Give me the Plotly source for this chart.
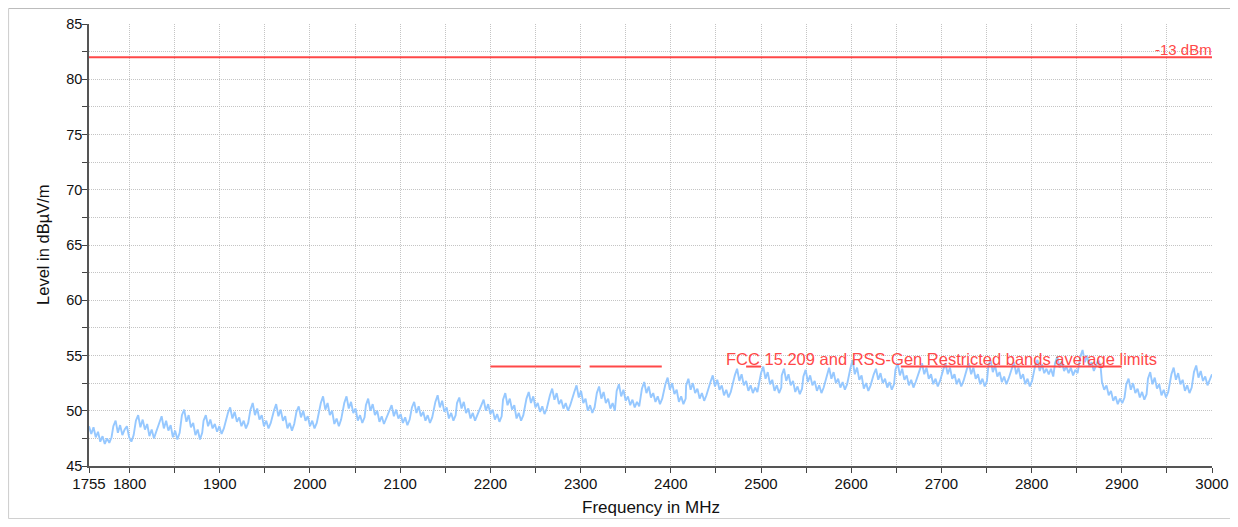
import plotly.graph_objects as go

# ---------------- data ----------------
# sweep sawtooth: each cycle starts at CYCLE_START (MHz) with samples every SAMPLE_STEP MHz
SAMPLE_STEP = 2.5
CYCLE_START = [1755, 1782, 1807, 1833, 1858, 1882, 1909, 1934, 1960, 1985, 2012, 2038,
               2062, 2088, 2113, 2139, 2163, 2190, 2214, 2240, 2266, 2293, 2318, 2340,
               2368, 2394, 2417, 2444, 2471, 2500, 2523, 2547, 2573, 2599, 2625, 2649,
               2676, 2702, 2728, 2752, 2778, 2804, 2826, 2854, 2878, 2905, 2929, 2955, 2980]
CYCLE_LEVELS = [
    [48.6, 47.9, 48.5, 47.6, 48.1, 47.2, 47.7, 47.0, 47.5, 47.1, 47.6],
    [48.6, 49.1, 48.0, 48.7, 47.8, 48.3, 48.6, 47.6, 47.2, 47.8],
    [49.1, 49.6, 48.5, 49.2, 48.3, 48.8, 47.7, 48.3, 47.5, 48.1],
    [49.0, 49.5, 48.4, 49.1, 48.2, 48.7, 47.6, 48.2, 47.4, 48.0],
    [49.6, 50.1, 49.0, 49.6, 48.5, 48.9, 47.8, 48.3, 47.4, 48.0],
    [49.1, 49.6, 48.6, 49.2, 48.4, 48.8, 48.1, 48.6, 47.9, 48.4],
    [49.8, 50.3, 49.3, 49.9, 49.0, 49.4, 48.6, 49.1, 48.4, 48.9],
    [50.1, 50.7, 49.6, 50.2, 49.2, 49.6, 48.6, 49.1, 48.4, 48.9],
    [50.0, 50.6, 49.5, 50.1, 49.1, 49.5, 48.4, 48.9, 48.2, 48.8],
    [49.9, 50.4, 49.4, 50.0, 49.1, 49.5, 48.6, 49.1, 48.4, 48.9],
    [50.7, 51.3, 50.1, 50.7, 49.6, 50.0, 48.8, 49.3, 48.6, 49.2],
    [50.7, 51.3, 50.2, 50.8, 49.8, 50.2, 49.1, 49.6, 48.9, 49.4],
    [50.5, 51.1, 50.0, 50.6, 49.6, 50.0, 49.0, 49.5, 48.8, 49.3],
    [50.0, 50.5, 49.5, 50.1, 49.3, 49.7, 48.9, 49.4, 48.7, 49.2],
    [50.3, 50.8, 49.8, 50.4, 49.5, 49.9, 49.1, 49.6, 48.9, 49.4],
    [50.8, 51.4, 50.3, 50.9, 49.9, 50.3, 49.3, 49.8, 49.1, 49.6],
    [50.7, 51.2, 50.2, 50.8, 49.8, 50.2, 49.3, 49.8, 49.1, 49.6],
    [50.5, 51.0, 50.0, 50.6, 49.7, 50.1, 49.2, 49.7, 49.0, 49.5],
    [51.0, 51.6, 50.5, 51.1, 50.1, 50.5, 49.3, 49.8, 49.1, 49.6],
    [51.1, 51.7, 50.7, 51.3, 50.3, 50.7, 49.9, 50.4, 49.7, 50.2],
    [51.4, 52.0, 51.0, 51.6, 50.6, 51.0, 50.2, 50.7, 50.0, 50.5],
    [51.7, 52.3, 51.2, 51.8, 50.7, 51.1, 50.0, 50.5, 49.8, 50.3],
    [51.6, 52.2, 51.1, 51.7, 50.7, 51.1, 50.2, 50.7, 50.0],
    [51.8, 52.4, 51.3, 51.9, 50.9, 51.3, 50.5, 51.0, 50.3, 50.8, 50.4],
    [52.0, 52.6, 51.6, 52.2, 51.2, 51.6, 50.8, 51.3, 50.6, 51.1],
    [52.4, 53.0, 51.9, 52.5, 51.5, 51.9, 50.8, 51.3, 50.6, 51.1],
    [52.3, 52.9, 51.9, 52.5, 51.6, 52.0, 51.1, 51.6, 50.9, 51.4],
    [52.6, 53.2, 52.2, 52.8, 51.9, 52.3, 51.4, 51.9, 51.2, 51.7],
    [53.2, 53.8, 52.7, 53.3, 52.3, 52.7, 51.8, 52.3, 51.6, 52.1, 51.7],
    [53.4, 54.0, 52.9, 53.5, 52.4, 52.8, 51.8, 52.3, 51.6, 52.1],
    [53.2, 53.8, 52.7, 53.3, 52.3, 52.7, 51.7, 52.2, 51.5, 52.0],
    [53.1, 53.7, 52.6, 53.2, 52.3, 52.7, 51.8, 52.3, 51.6, 52.1],
    [53.3, 53.9, 52.9, 53.5, 52.5, 52.9, 52.1, 52.6, 51.9, 52.4],
    [53.8, 54.6, 53.3, 53.9, 52.8, 53.2, 52.0, 52.5, 51.8, 52.3],
    [53.3, 53.8, 52.8, 53.4, 52.5, 52.9, 52.1, 52.6, 51.9, 52.4],
    [53.7, 54.3, 53.2, 53.8, 52.8, 53.2, 52.3, 52.8, 52.1, 52.6],
    [53.7, 54.3, 53.3, 53.9, 52.9, 53.3, 52.4, 52.9, 52.2, 52.7],
    [53.7, 54.3, 53.3, 53.9, 52.9, 53.3, 52.4, 52.9, 52.2, 52.7],
    [53.7, 54.3, 53.3, 53.9, 52.9, 53.3, 52.4, 52.9, 52.2, 52.7],
    [54.0, 54.6, 53.5, 54.1, 53.1, 53.5, 52.6, 53.1, 52.4, 52.9],
    [53.8, 54.4, 53.3, 53.9, 52.9, 53.3, 52.4, 52.9, 52.2, 52.7],
    [54.1, 54.6, 53.6, 54.2, 53.4, 53.8, 53.3, 53.8, 53.1],
    [54.3, 54.9, 53.9, 54.5, 53.6, 54.0, 53.4, 53.9, 53.2, 53.7, 53.4],
    [54.9, 55.5, 54.4, 55.0, 54.0, 54.4, 53.6, 54.1, 54.6, 54.0],
    [52.6, 51.9, 52.3, 51.4, 51.8, 50.9, 51.3, 50.6, 51.1, 50.7, 51.2],
    [52.4, 52.9, 51.9, 52.5, 51.6, 52.0, 51.2, 51.7, 51.0, 51.5],
    [52.9, 53.5, 52.4, 53.0, 52.0, 52.4, 51.4, 51.9, 51.2, 51.7],
    [53.3, 53.9, 52.8, 53.4, 52.4, 52.8, 51.8, 52.3, 51.6, 52.1],
    [53.5, 54.1, 53.0, 53.6, 52.7, 53.1, 52.3, 52.8, 53.3],
]

# limit lines
LIMIT_13DBM_FREQ = [1755, 3000]
LIMIT_13DBM_LEVEL = [82, 82]
RESTRICTED_BANDS = [(2200, 2300), (2310, 2390), (2483.5, 2500), (2655, 2900)]
RESTRICTED_LEVEL = 54

X_TICKS = [1755] + list(range(1800, 3001, 50))
X_TICK_LABELS = [str(v) if (v == 1755 or v % 100 == 0) else "" for v in X_TICKS]
Y_TICKS = [45 + 2.5 * i for i in range(17)]
Y_TICK_LABELS = [str(int(v)) if v % 5 == 0 else "" for v in Y_TICKS]

# ---------------- build ----------------
freq, level = [], []
for start, vals in zip(CYCLE_START, CYCLE_LEVELS):
    for i, v in enumerate(vals):
        f = min(start + SAMPLE_STEP * i, 3000)
        freq.append(f)
        level.append(v)

RED = "rgb(255,72,72)"
BLUE = "rgb(150,200,255)"
FONT = "Liberation Sans, Arial, sans-serif"

fig = go.Figure()
fig.add_trace(go.Scatter(x=freq, y=level, mode="lines",
                         line=dict(color=BLUE, width=1.9), showlegend=False,
                         hoverinfo="skip"))
fig.add_trace(go.Scatter(x=LIMIT_13DBM_FREQ, y=LIMIT_13DBM_LEVEL, mode="lines",
                         line=dict(color=RED, width=2), showlegend=False))
bx, by = [], []
for a, b in RESTRICTED_BANDS:
    bx += [a, b, None]
    by += [RESTRICTED_LEVEL, RESTRICTED_LEVEL, None]
fig.add_trace(go.Scatter(x=bx, y=by, mode="lines",
                         line=dict(color=RED, width=2), showlegend=False))

fig.add_annotation(x=3000, y=82, text="-13 dBm", showarrow=False,
                   xanchor="right", yanchor="bottom", yshift=-3, xshift=2,
                   font=dict(family=FONT, size=15, color=RED))
fig.add_annotation(x=2700, y=RESTRICTED_LEVEL,
                   text="FCC 15.209 and RSS-Gen Restricted bands average limits",
                   showarrow=False, xanchor="center", yanchor="bottom", yshift=-3,
                   font=dict(family=FONT, size=16.5, color=RED))

# axis titles
fig.add_annotation(xref="paper", yref="paper", x=0.5, y=-0.1199,
                   text="Frequency in MHz", showarrow=False,
                   xanchor="center", yanchor="bottom",
                   font=dict(family=FONT, size=17, color="#111"))
fig.add_annotation(xref="paper", yref="paper", x=-0.041, y=0.5,
                   text="Level in dBµV/m", showarrow=False, textangle=-90,
                   xanchor="center", yanchor="middle",
                   font=dict(family=FONT, size=16.5, color="#111"))

# outer frame (top, left, bottom)
fig.add_shape(type="line", xref="paper", yref="paper",
              x0=-0.0716, x1=1.05, y0=1.035, y1=1.035,
              line=dict(color="#bbbbbb", width=1))
fig.add_shape(type="line", xref="paper", yref="paper",
              x0=-0.0716, x1=-0.0716, y0=1.035, y1=-0.119,
              line=dict(color="#cccccc", width=1))
fig.add_shape(type="line", xref="paper", yref="paper",
              x0=-0.0716, x1=1.05, y0=-0.119, y1=-0.119,
              line=dict(color="#cccccc", width=1))

fig.update_xaxes(range=[1755, 3000], tickmode="array", tickvals=X_TICKS,
                 ticktext=X_TICK_LABELS, ticks="outside", ticklen=5,
                 tickcolor="#444", tickwidth=1.2, automargin=False,
                 ticklabelstandoff=-2,
                 showline=True, linecolor="#555", linewidth=1.5,
                 showgrid=True, gridcolor="#c4c4c4", griddash="1px,1px", gridwidth=1,
                 zeroline=False,
                 tickfont=dict(family=FONT, size=15, color="#111"))
fig.update_yaxes(range=[45, 85], tickmode="array", tickvals=Y_TICKS,
                 ticktext=Y_TICK_LABELS, ticks="outside", ticklen=5,
                 tickcolor="#444", tickwidth=1.2, automargin=False,
                 ticklabelstandoff=-3,
                 showline=True, linecolor="#555", linewidth=1.5,
                 showgrid=True, gridcolor="#c4c4c4", griddash="1px,1px", gridwidth=1,
                 zeroline=False,
                 tickfont=dict(family=FONT, size=14.5, color="#111"))

fig.update_layout(width=1222, height=511,
                  margin=dict(l=81, r=18, t=16, b=53, autoexpand=False),
                  paper_bgcolor="white", plot_bgcolor="white",
                  showlegend=False)

fig.write_html("out.html")
